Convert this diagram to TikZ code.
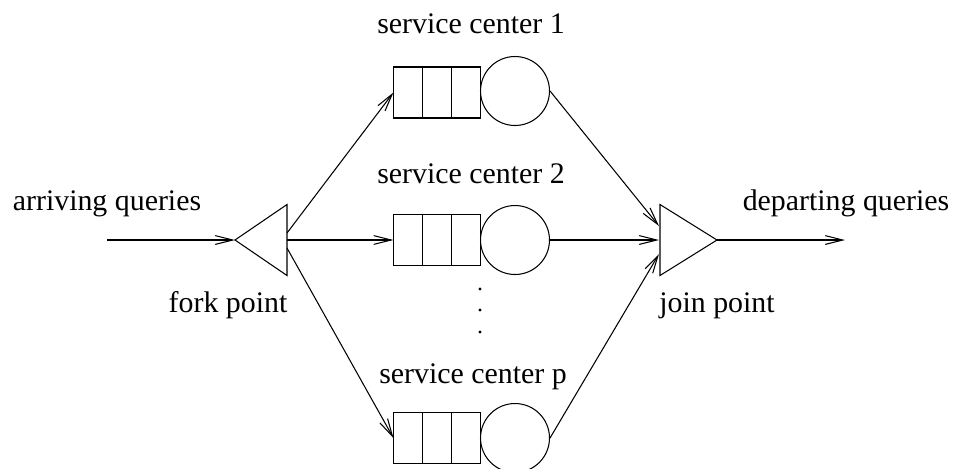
\documentclass[tikz,border=0pt]{standalone}
\usepackage{fontspec}
\setmainfont{Liberation Serif}
\usetikzlibrary{arrows.meta, calc}

\begin{document}
\begin{tikzpicture}[x=0.02cm, y=-0.02cm, line width=0.6pt,
    >={Straight Barb[length=10pt, width=5pt]},
    font=\fontsize{17}{20}\selectfont]
      \useasboundingbox (0,0) rectangle (953,468);

      \node[draw, inner sep=0, minimum width=1.734cm, minimum height=1.02cm]  (Q1)  at (437.3,  92.5)  {};
      \node[draw, inner sep=0, minimum width=1.734cm, minimum height=1.02cm]  (Q2)  at (437.3, 240.0)  {};
      \node[draw, inner sep=0, minimum width=1.734cm, minimum height=1.02cm]  (Qp)  at (437.3, 438.0)  {};

      \node[draw, circle, inner sep=0, minimum size=1.38cm]  (S1)  at (515.0,  91.0)  {};
      \node[draw, circle, inner sep=0, minimum size=1.38cm]  (S2)  at (515.0, 240.0)  {};
      \node[draw, circle, inner sep=0, minimum size=1.38cm]  (Sp)  at (515.0, 438.0)  {};

      \node[anchor=base]  (L1)  at (471, 33)   {service center 1};
      \node[anchor=base]  (L2)  at (471, 183)  {service center 2};
      \node[anchor=base]  (Lp)  at (473, 383)  {service center p};

      \node[anchor=base]  (AQ)  at (107, 210)  {arriving queries};
      \node[anchor=base]  (FP)  at (228, 312)  {fork point};
      \node[anchor=base]  (JP)  at (717, 312)  {join point};
      \node[anchor=base]  (DQ)  at (846, 210)  {departing queries};

      \coordinate (A)    at (107, 240);
      \coordinate (D)    at (845, 240);
      \coordinate (fork) at (235, 240);
      \coordinate (join) at (717, 240);
      \coordinate (F1)   at (287, 233);
      \coordinate (F2)   at (287, 240);
      \coordinate (F3)   at (287, 248);
      \coordinate (J1)   at (659, 226);
      \coordinate (J2)   at (659, 240);
      \coordinate (J3)   at (659, 254);

      % queue cells
      \draw ($(Q1.north west)!1/3!(Q1.north east)$) -- ($(Q1.south west)!1/3!(Q1.south east)$);
      \draw ($(Q1.north west)!2/3!(Q1.north east)$) -- ($(Q1.south west)!2/3!(Q1.south east)$);
      \draw ($(Q2.north west)!1/3!(Q2.north east)$) -- ($(Q2.south west)!1/3!(Q2.south east)$);
      \draw ($(Q2.north west)!2/3!(Q2.north east)$) -- ($(Q2.south west)!2/3!(Q2.south east)$);
      \draw ($(Qp.north west)!1/3!(Qp.north east)$) -- ($(Qp.south west)!1/3!(Qp.south east)$);
      \draw ($(Qp.north west)!2/3!(Qp.north east)$) -- ($(Qp.south west)!2/3!(Qp.south east)$);

      % fork and join
      \draw (fork) -- (287, 204.5) -- (287, 275.5) -- cycle;
      \draw (join) -- (660, 204.5) -- (660, 275.5) -- cycle;

      \fill (480, 289) circle (0.9pt);
      \fill (480, 310) circle (0.9pt);
      \fill (480, 332) circle (0.9pt);

      \draw[->] (A) -- (fork);

      \draw[->] (F1) -- (Q1.west);
      \draw[->] (F2) -- (Q2.west);
      \draw[->] (F3) -- (Qp.west);

      \draw[->] (S1.east) -- (J1);
      \draw[->] (S2.east) -- (J2);
      \draw[->] (Sp.east) -- (J3);

      \draw[->] (join) -- (D);
\end{tikzpicture}
\end{document}
